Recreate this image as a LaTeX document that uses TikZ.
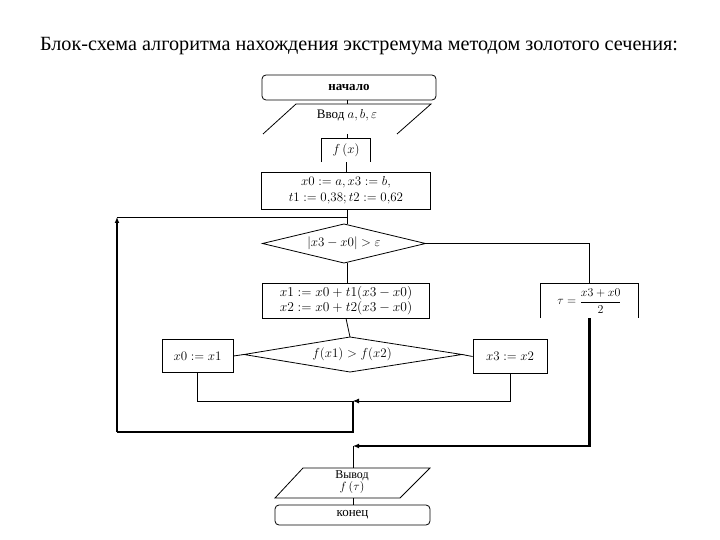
\documentclass[tikz,border=0pt]{standalone}
\usepackage{fix-cm}
\usepackage{fontspec}
\setmainfont{Liberation Serif}
\usetikzlibrary{arrows.meta}
\begin{document}
\begin{tikzpicture}[x=1pt,y=-1pt,
  txt/.style={font=\fontsize{13}{15.5}\selectfont,align=center,inner sep=1pt},
  box/.style={txt,draw,rectangle,line width=0.8pt},
  term/.style={box,rounded corners=4pt},
  open/.style={txt,rectangle},
  conn/.style={line width=0.8pt},
  heavy/.style={line width=2.4pt},
  tip/.style={-{Latex[length=6pt,width=5pt]}}]
\useasboundingbox (0,0) rectangle (720,540);
\fill[white] (0,0) rectangle (720,540);

\node[font=\fontsize{20.2}{24}\selectfont] (title) at (359,46) {Блок-схема алгоритма нахождения экстремума методом золотого сечения:};

\node[term,minimum width=174pt,minimum height=25pt] (start) at (349,87.5) {\bfseries начало};

% input (parallelogram, bottom edge not shown)
\coordinate (intl) at (296,104);
\coordinate (intr) at (431,104);
\coordinate (inbl) at (263,134);
\coordinate (inbr) at (397,134);
\coordinate (intop) at (347,104);
\coordinate (inbot) at (347,134);
\node[open] (in) at (347,115) {Ввод $a, b, \varepsilon$};
\draw[conn] (inbl) -- (intl) -- (intr) -- (inbr);

\node[open,minimum width=48pt,minimum height=23pt] (fx) at (346,150.5) {$f\,(x)$};
\draw[conn] (fx.south west) -- (fx.north west) -- (fx.north east) -- (fx.south east);

\node[box,minimum width=169pt,minimum height=37pt] (init) at (346,190.5)
  {$x0 := a, x3 := b,$\\ $t1 := 0{,}38; t2 := 0{,}62$};

% decision 1
\node[open] (d1) at (344,243.5) {$\left|x3 - x0\right| > \varepsilon$};
\coordinate (d1w) at (262.5,243.5);
\coordinate (d1e) at (425.5,243.5);
\coordinate (d1n) at (344,224);
\coordinate (d1s) at (344,263);
\draw[conn] (d1w) -- (d1n) -- (d1e) -- (d1s) -- cycle;

\node[box,minimum width=167pt,minimum height=35pt,font=\fontsize{13.5}{15.5}\selectfont] (calc) at (346,300.5)
  {$x1 := x0 + t1(x3 - x0)$\\ $x2 := x0 + t2(x3 - x0)$};

% decision 2
\node[open] (d2) at (352,354.5) {$f(x1) > f(x2)$};
\coordinate (d2w) at (244,354.5);
\coordinate (d2e) at (462,354.5);
\coordinate (d2n) at (350,337);
\coordinate (d2s) at (350,372);
\draw[conn] (d2w) -- (d2n) -- (d2e) -- (d2s) -- cycle;

\node[box,minimum width=71pt,minimum height=33pt] (b1) at (197.5,356) {$x0 := x1$};
\node[box,minimum width=74pt,minimum height=34pt] (b2) at (510,356.5) {$x3 := x2$};

\node[open,minimum width=97pt,minimum height=34pt,font=\fontsize{12}{14}\selectfont] (tau) at (589.5,301) {$\tau = \displaystyle\frac{x3 + x0}{2}$};
\draw[conn] (tau.south west) -- (tau.north west) -- (tau.north east) -- (tau.south east);

% output parallelogram
\coordinate (otl) at (303,468);
\coordinate (otr) at (430,468);
\coordinate (obr) at (400,498);
\coordinate (obl) at (275,498);
\coordinate (otop) at (353,468);
\coordinate (obot) at (353,498);
\node[open,font=\fontsize{12}{12}\selectfont] (out) at (352,482) {Вывод\\ $f\,(\tau)$};
\draw[conn] (otl) -- (otr) -- (obr) -- (obl) -- cycle;

\node[term,minimum width=155pt,minimum height=20pt] (end) at (352.5,515) {конец};

% connectors
\coordinate (j1) at (347,217);
\coordinate (lt) at (117,217);
\coordinate (lb) at (117,432);
\coordinate (mb) at (353,432);
\coordinate (merge) at (353,401);
\coordinate (oj) at (353,446);

\draw[conn] (intop |- start.south) -- (intop);
\draw[conn] (inbot) -- (inbot |- fx.north);
\draw[conn] (fx.south) -- (fx.south |- init.north);
\draw[conn] (init.south -| j1) -- (d1n -| j1);
\draw[conn] (lt) -- (j1);
\draw[heavy,tip] (lb) -- (lt);
\draw[heavy] (merge) -- (mb) -- (lb);
\draw[conn] (d1e) -| (tau.north);
\draw[conn] (d1s -| j1) -- (calc.north -| j1);
\draw[conn] (calc.south) -- (d2n);
\draw[conn] (d2w) -- (b1.east);
\draw[conn] (d2e) -- (b2.west);
\draw[conn] (b1.south) |- (merge);
\draw[conn,tip] (b2.south) |- (merge);
\draw[heavy,tip] (tau.south) |- (oj);
\draw[conn] (oj) -- (otop);
\draw[conn] (obot) -- (end.north -| obot);
\end{tikzpicture}
\end{document}
